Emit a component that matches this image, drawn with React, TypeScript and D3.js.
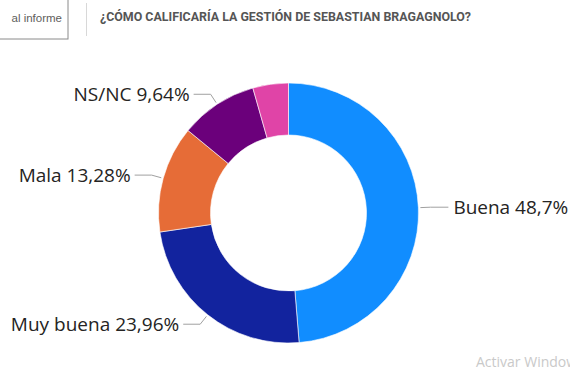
import * as d3 from "d3";
import React, { useEffect, useRef } from "react";

const categories = ["Buena", "Muy buena", "Mala", "NS/NC", "Otro"];
const values = [48.7, 23.96, 13.28, 9.64, 4.42];
const valueLabels = ["48,7%", "23,96%", "13,28%", "9,64%", ""];
const colors = ["#118DFF", "#12239E", "#E66C37", "#6B007B", "#E044A7"];
const title = "¿CÓMO CALIFICARÍA LA GESTIÓN DE SEBASTIAN BRAGAGNOLO?";

const width = 570;
const height = 370;
const cx = 288.5;
const cy = 213;
const outer = 130;
const inner = 78;

const App: React.FC = () => {
    const wrapper = useRef<SVGSVGElement>(null);

    useEffect(() => {
        if (!wrapper.current) return;
        const svg = d3.select(wrapper.current);
        svg.selectAll("*").remove();
        svg.attr("width", width).attr("height", height).attr("viewBox", [0, 0, width, height]);

        svg.append("rect").attr("width", width).attr("height", height).attr("fill", "#fff");

        // header: back button + separator + title
        svg.append("rect")
            .attr("x", -20).attr("y", -5)
            .attr("width", 88).attr("height", 44)
            .attr("fill", "#fff")
            .attr("stroke", "#8a8a8a");
        svg.append("text")
            .attr("x", 62).attr("y", 22)
            .attr("text-anchor", "end")
            .style("font-family", "'Liberation Sans', Arial, sans-serif")
            .style("font-size", "11.5px")
            .attr("fill", "#605e5c")
            .text("al informe");
        svg.append("line")
            .attr("x1", 86.5).attr("x2", 86.5)
            .attr("y1", 3).attr("y2", 36)
            .attr("stroke", "#d8d8d8");
        svg.append("text")
            .attr("x", 100).attr("y", 21)
            .attr("textLength", 371)
            .attr("lengthAdjust", "spacingAndGlyphs")
            .style("font-family", "Roboto, sans-serif")
            .style("font-weight", "bold")
            .style("font-size", "12px")
            .attr("fill", "#555")
            .text(title);

        const pie = d3.pie<number>().sort(null).value((d) => d);
        const arcs = pie(values);
        const arc = d3.arc<d3.PieArcDatum<number>>().innerRadius(inner).outerRadius(outer);

        const g = svg.append("g").attr("transform", `translate(${cx}, ${cy})`);

        g.selectAll("path")
            .data(arcs)
            .join("path")
            .attr("d", arc)
            .attr("fill", (_, i) => colors[i])
            .attr("stroke", "#fff")
            .attr("stroke-width", 0.6);

        const labelled = arcs.filter((_, i) => valueLabels[i] !== "");

        const pt = (a: number, r: number): [number, number] => [Math.sin(a) * r, -Math.cos(a) * r];

        labelled.forEach((d) => {
            const i = d.index;
            const mid = (d.startAngle + d.endAngle) / 2;
            const right = Math.sin(mid) > 0;
            const p0 = pt(mid, outer + 2);
            const p1 = pt(mid, outer + 12);
            const x2 = p1[0] + (right ? 18 : -17);
            g.append("polyline")
                .attr("points", [p0, p1, [x2, p1[1]]].map((p) => p.join(",")).join(" "))
                .attr("fill", "none")
                .attr("stroke", "#a0a0a0")
                .attr("stroke-width", 1);
            g.append("text")
                .attr("x", x2 + (right ? 5 : -4))
                .attr("y", p1[1])
                .attr("dy", "0.35em")
                .attr("text-anchor", right ? "start" : "end")
                .style("font-family", "'Segoe UI', 'Open Sans', sans-serif")
                .style("font-size", "19px")
                .attr("fill", "#252423")
                .text(`${categories[i]} ${valueLabels[i]}`);
        });

        svg.append("text")
            .attr("x", 476).attr("y", 367)
            .style("font-family", "'Segoe UI', 'Open Sans', sans-serif")
            .style("font-size", "14px")
            .attr("fill", "#c9c9c9")
            .text("Activar Windows");
    }, []);

    return <svg ref={wrapper} style={{ position: "absolute", left: 0, top: 0 }} />;
};

export default App;
